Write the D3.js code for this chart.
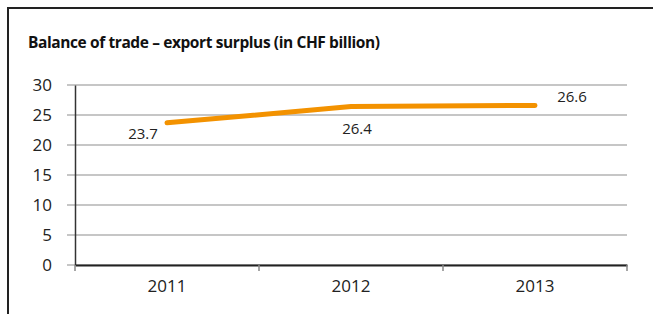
<!DOCTYPE html>
<meta charset="utf-8">
<style>
body {
  margin: 0;
  background: #fff;
  font-family: "Open Sans", "Noto Sans", sans-serif;
}
.axis text {
  font-family: "Open Sans", "Noto Sans", sans-serif;
  fill: #222;
}
.grid line {
  stroke: #b3b3b3;
  stroke-width: 1.5;
}
.label {
  font: 15px "Open Sans", "Noto Sans", sans-serif;
  fill: #222;
}
</style>
<body>
<svg width="653" height="314"></svg>
<script src="https://d3js.org/d3.v7.min.js"></script>
<script>
// chart data
var years = ["2011", "2012", "2013"];
var surplus = [23.7, 26.4, 26.6];
var yTicks = [0, 5, 10, 15, 20, 25, 30];

var svg = d3.select("svg"),
    margin = {top: 85, right: 26, bottom: 49, left: 75},
    width = +svg.attr("width") - margin.left - margin.right,
    height = +svg.attr("height") - margin.top - margin.bottom;

// frame (top and left edges only)
svg.append("path")
    .attr("d", "M8,314 V8 H653")
    .attr("fill", "none")
    .attr("stroke", "#222")
    .attr("stroke-width", 2);

svg.append("text")
    .attr("x", 28)
    .attr("y", 48)
    .style("font", "bold 15.5px 'Open Sans', 'Noto Sans', sans-serif")
    .style("letter-spacing", "-0.4px")
    .style("fill", "#111")
    .text("Balance of trade \u2013 export surplus (in CHF billion)");

var x = d3.scaleBand().domain(years).range([0, width]);
var y = d3.scaleLinear().domain([0, 30]).range([height, 0]);

var g = svg.append("g")
    .attr("transform", "translate(" + margin.left + "," + margin.top + ")");

// gridlines
g.append("g")
    .attr("class", "grid")
    .selectAll("line")
    .data(yTicks)
  .enter().append("line")
    .attr("x1", -8)
    .attr("x2", width)
    .attr("y1", function(d) { return y(d); })
    .attr("y2", function(d) { return y(d); });

// y axis
var yAxis = g.append("g")
    .attr("class", "axis")
    .call(d3.axisLeft(y).tickValues(yTicks).tickSize(0).tickPadding(23));
yAxis.select(".domain").attr("stroke", "#333").attr("stroke-width", 1.5);
yAxis.selectAll("text").style("font-size", "17px");

// x axis
var xAxis = g.append("g")
    .attr("class", "axis")
    .attr("transform", "translate(0," + height + ")")
    .call(d3.axisBottom(x).tickSize(0).tickPadding(15));
xAxis.select(".domain").attr("stroke", "#222").attr("stroke-width", 2);
xAxis.selectAll("text").style("font-size", "17px");

// category boundary ticks
g.append("g")
    .selectAll("line")
    .data(years.concat(["end"]))
  .enter().append("line")
    .attr("x1", function(d, i) { return i * x.step(); })
    .attr("x2", function(d, i) { return i * x.step(); })
    .attr("y1", height)
    .attr("y2", height + 6)
    .attr("stroke", "#888")
    .attr("stroke-width", 1.5);

var pts = years.map(function(d, i) { return {year: d, v: surplus[i]}; });

var line = d3.line()
    .x(function(d) { return x(d.year) + x.bandwidth() / 2; })
    .y(function(d) { return y(d.v); });

g.append("path")
    .datum(pts)
    .attr("d", line)
    .attr("fill", "none")
    .attr("stroke", "#f39200")
    .attr("stroke-width", 5)
    .attr("stroke-linecap", "round")
    .attr("stroke-linejoin", "round");

// value labels
var offsets = [{dx: -24, dy: 11}, {dx: 6, dy: 22}, {dx: 37, dy: -9}];
g.selectAll(".label")
    .data(pts)
  .enter().append("text")
    .attr("class", "label")
    .attr("text-anchor", "middle")
    .attr("x", function(d, i) { return x(d.year) + x.bandwidth() / 2 + offsets[i].dx; })
    .attr("y", function(d, i) { return y(d.v) + offsets[i].dy; })
    .attr("dy", "0.35em")
    .text(function(d) { return d.v.toFixed(1); });
</script>
</body>
